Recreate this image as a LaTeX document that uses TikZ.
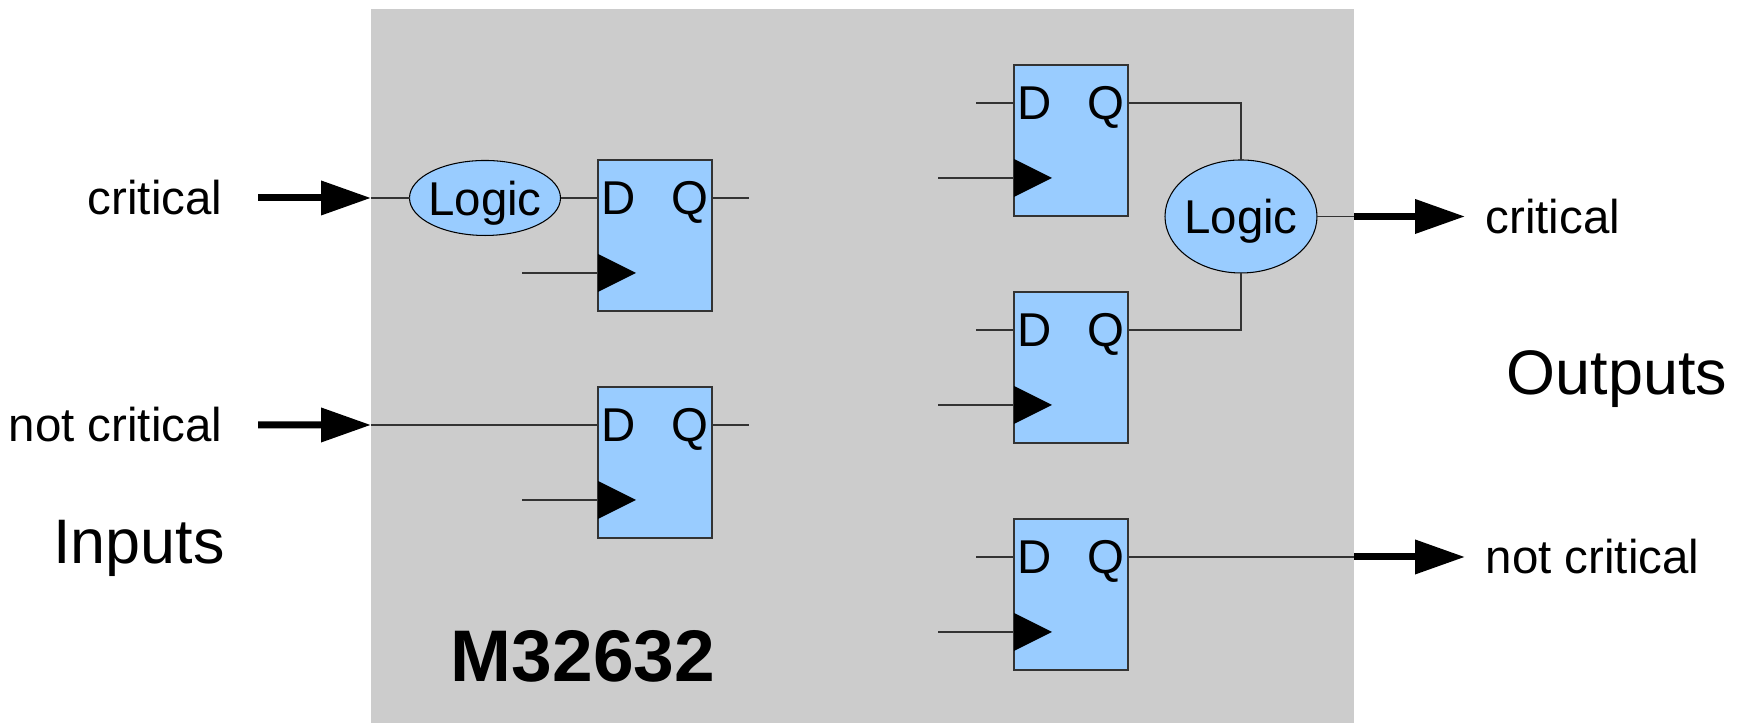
\documentclass[tikz,border=0pt]{standalone}
\usepackage{fontspec}
\setmainfont{Liberation Sans}
\usetikzlibrary{calc,positioning,arrows.meta,shapes.geometric}
\definecolor{ffblue}{HTML}{99CCFF}
\definecolor{chipgray}{HTML}{CCCCCC}
\newcommand{\normalfs}{\fontsize{13.5}{16}\selectfont}
\tikzset{
	wire/.style={line width=0.3pt, color=black!80},
	bigarrow/.style={line width=0.7mm, -{Triangle[length=5mm, width=3.3mm]}},
	ffbox/.style={draw=black!80, line width=0.4pt, fill=ffblue, minimum width=1.14cm, minimum height=1.51cm, inner sep=0, outer sep=0},
	logic/.style={ellipse, draw, line width=0.3pt, fill=ffblue, inner ysep=0, inner xsep=-0.6mm, outer sep=0, text depth=0pt, font=\normalfs},
	pin/.style={inner sep=0.25mm, text depth=0pt, font=\normalfs},
	lbl/.style={inner sep=0, font=\normalfs},
	biglbl/.style={inner sep=0, font=\fontsize{17.9}{21}\selectfont}
}
% D flip-flop: name, centre
\newcommand{\dff}[2]{%
	\node[ffbox] (#1) at (#2) {};
	\coordinate (#1-d) at ($(#1.west)+(0,0.375)$);
	\coordinate (#1-q) at ($(#1.east)+(0,0.375)$);
	\coordinate (#1-clk) at ($(#1.west)+(0,-0.375)$);
	\coordinate (#1-ci) at ($(#1-clk)+(-0.76,0)$);
	\node[pin, anchor=west] (#1-dl) at (#1-d) {D};
	\node[pin, anchor=east] (#1-ql) at (#1-q) {Q};
	\fill ($(#1-clk)+(0,0.19)$) -- ($(#1-clk)+(0.38,0)$) -- ($(#1-clk)+(0,-0.19)$) -- cycle;
	\draw[wire] (#1-ci) -- (#1-clk);
}

\begin{document}
\begin{tikzpicture}
		%%%%% START %%%%%
		\useasboundingbox (0,0) rectangle (17.4,7.23);
		
		\node[fill=chipgray, minimum width=9.83cm, minimum height=7.14cm, inner sep=0, outer sep=0] (chip) at (8.625,3.57) {};
		\node[anchor=base, inner sep=0, font=\bfseries\fontsize{20.8}{24}\selectfont] (chipname) at (5.83,0.41) {M32632};
		
		% inputs
		\node[logic, minimum width=1.51cm, minimum height=0.75cm] (logic1) at (4.85,5.25) {Logic};
		\dff{ff1}{6.55,4.875}
		\dff{ff2}{6.55,2.605}
		\coordinate (inc) at (2.58,5.25);
		\coordinate (innc) at (2.58,2.98);
		\draw[bigarrow] (inc) -- (chip.west |- logic1);
		\draw[wire] (chip.west |- logic1) -- (logic1.west);
		\draw[wire] (logic1.east) -- (ff1-d);
		\draw[bigarrow] (innc) -- (chip.west |- ff2-d);
		\draw[wire] (chip.west |- ff2-d) -- (ff2-d);
		\foreach \f in {ff1,ff2} {
			\coordinate (\f-qo) at ($(\f-q)+(0.37,0)$);
			\draw[wire] (\f-q) -- (\f-qo);
		}
		\node[lbl, left=0.35cm of inc] (inc-lbl) {critical};
		\node[lbl, left=0.35cm of innc] (innc-lbl) {not critical};
		\node[biglbl, anchor=base] (inputs) at (1.39,1.59) {Inputs};
		
		% outputs
		\dff{ff3}{10.71,5.825}
		\dff{ff4}{10.71,3.555}
		\dff{ff5}{10.71,1.285}
		\foreach \f in {ff3,ff4,ff5} {
			\coordinate (\f-di) at ($(\f-d)+(-0.38,0)$);
			\draw[wire] (\f-di) -- (\f-d);
		}
		\node[logic, minimum width=1.52cm, minimum height=1.13cm] (logic2) at (12.41,5.065) {Logic};
		\draw[wire] (ff3-q) -| (logic2.north);
		\draw[wire] (ff4-q) -| (logic2.south);
		\coordinate (outc) at (14.65,5.065);
		\coordinate (outnc) at (14.65,1.66);
		\draw[wire] (logic2.east) -- (chip.east |- logic2);
		\draw[bigarrow] (chip.east |- logic2) -- (outc);
		\draw[wire] (ff5-q) -- (chip.east |- ff5-q);
		\draw[bigarrow] (chip.east |- ff5-q) -- (outnc);
		\node[lbl, right=0.2cm of outc] (outc-lbl) {critical};
		\node[lbl, right=0.2cm of outnc] (outnc-lbl) {not critical};
		\node[biglbl, anchor=base] (outputs) at (16.17,3.28) {Outputs};
		
		%%%%% END %%%%%
\end{tikzpicture}
\end{document}
